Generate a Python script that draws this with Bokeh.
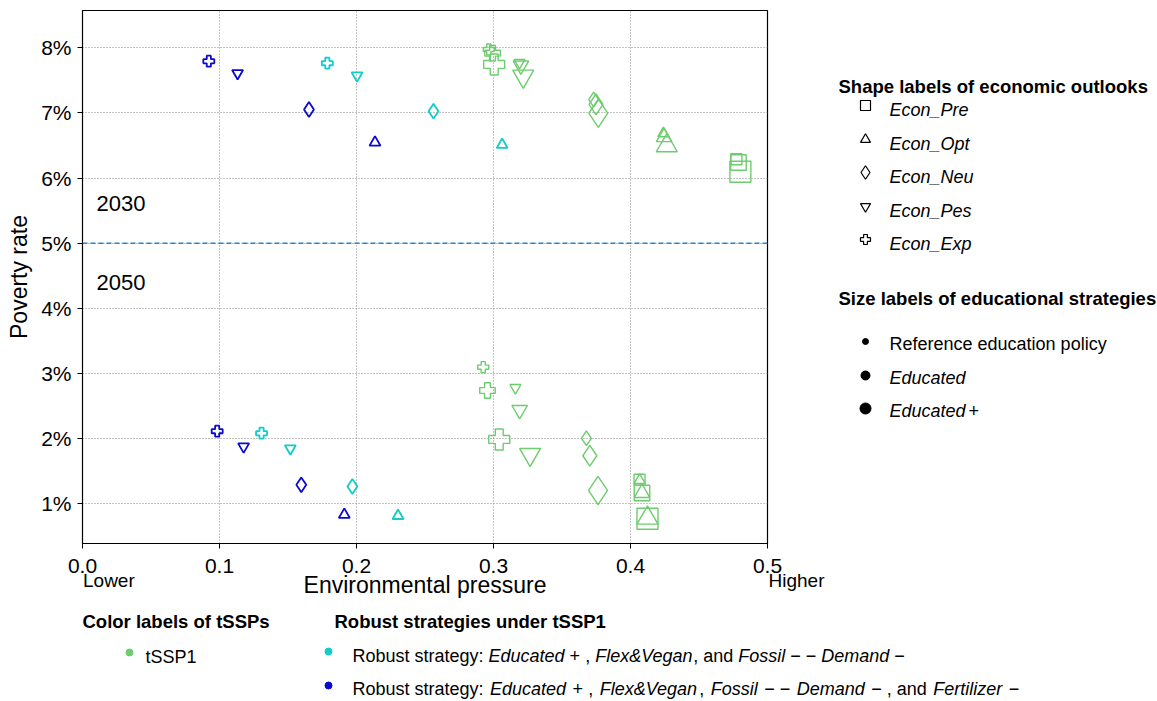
from bokeh.plotting import figure
from bokeh.models import (Range1d, FixedTicker, Span, Label, ColumnDataSource, LinearAxis,
                          NumeralTickFormatter, PrintfTickFormatter)
from bokeh.layouts import column, row
from bokeh.embed import file_html
from bokeh.resources import INLINE
from bokeh.core.properties import value

FONT = "Liberation Sans"

# ------------------------------------------------------------------ data
outlooks = ["Econ_Pre", "Econ_Opt", "Econ_Neu", "Econ_Pes", "Econ_Exp"]
robust_outlooks = ["Econ_Opt", "Econ_Neu", "Econ_Pes", "Econ_Exp"]
edu_levels = ["Reference education policy", "Educated", "Educated+"]

# tSSP1 (green) 2030 : environmental pressure / poverty rate (%)
t1_2030_ref_pressure = [0.4773, 0.4240, 0.3731, 0.3190, 0.2966]
t1_2030_ref_poverty = [6.290, 6.684, 7.206, 7.774, 7.974]
t1_2030_edu_pressure = [0.4788, 0.4245, 0.3748, 0.3200, 0.2993]
t1_2030_edu_poverty = [6.239, 6.628, 7.130, 7.728, 7.917]
t1_2030_edup_pressure = [0.4802, 0.4265, 0.3765, 0.3217, 0.3005]
t1_2030_edup_poverty = [6.096, 6.497, 6.996, 7.564, 7.744]
# tSSP1 (green) 2050
t1_2050_ref_pressure = [0.4066, 0.4067, 0.3678, 0.3160, 0.2925]
t1_2050_ref_poverty = [1.368, 1.362, 2.005, 2.782, 3.097]
t1_2050_edu_pressure = [0.4084, 0.4084, 0.3703, 0.3191, 0.2956]
t1_2050_edu_poverty = [1.166, 1.166, 1.737, 2.440, 2.739]
t1_2050_edup_pressure = [0.4124, 0.4124, 0.3763, 0.3267, 0.3042]
t1_2050_edup_poverty = [0.771, 0.780, 1.204, 1.756, 1.987]

# Robust strategy A (cyan)
rA_2030_pressure = [0.3063, 0.2562, 0.2004, 0.1787]
rA_2030_poverty = [6.511, 7.027, 7.575, 7.764]
rA_2050_pressure = [0.2303, 0.1970, 0.1517, 0.1307]
rA_2050_poverty = [0.815, 1.265, 1.849, 2.083]
# Robust strategy B (blue)
rB_2030_pressure = [0.2135, 0.1653, 0.1132, 0.0922]
rB_2030_poverty = [6.546, 7.053, 7.610, 7.794]
rB_2050_pressure = [0.1911, 0.1597, 0.1176, 0.0983]
rB_2050_poverty = [0.831, 1.291, 1.879, 2.114]

x_ticks = [0.0, 0.1, 0.2, 0.3, 0.4, 0.5]
y_ticks = [1, 2, 3, 4, 5, 6, 7, 8]
end_labels = ["Lower", "Higher"]
threshold = 5
year_labels = ["2030", "2050"]
year_label_pos = [5.61, 4.40]

# ------------------------------------------------------------------ styles
GREEN = "#6dcc6d"
CYAN = "#12cccc"
BLUE = "#0a0ad0"
MARKER = {"Econ_Pre": "square", "Econ_Opt": "triangle", "Econ_Neu": "diamond",
          "Econ_Pes": "inverted_triangle", "Econ_Exp": "plus"}
SHAPE_SCALE = {"square": 1.0, "triangle": 1.0, "diamond": 1.35,
               "inverted_triangle": 1.0, "plus": 1.0}
EDU_SIZE = [11, 15.5, 21]

# Arial / Liberation Sans advance widths (1/1000 em)
W = {' ': 278, '\u00a0': 278, '&': 667, '+': 584, ',': 278, ':': 278, '_': 556, '\u2212': 584,
     '1': 556, 'A': 667, 'C': 722, 'D': 722, 'E': 667, 'F': 611, 'H': 722, 'L': 556, 'P': 667,
     'R': 722, 'S': 667, 'V': 667,
     'a': 556, 'b': 556, 'c': 500, 'd': 556, 'e': 556, 'f': 278, 'g': 556, 'h': 556, 'i': 222,
     'k': 500, 'l': 222, 'm': 833, 'n': 556, 'o': 556, 'p': 556, 'r': 333, 's': 500, 't': 278,
     'u': 556, 'v': 500, 'w': 722, 'x': 500, 'y': 500, 'z': 500}


def tw(s, px):
    return sum(W.get(c, 556) for c in s) * px / 1000.0


# ------------------------------------------------------------------ main plot
main = figure(width=830, height=610, x_range=Range1d(0, 0.5), y_range=Range1d(0.390, 8.5726),
              output_backend="svg", toolbar_location=None,
              min_border_left=82, min_border_right=63, min_border_top=10, min_border_bottom=67)
main.background_fill_color = "white"
main.border_fill_color = "white"
main.outline_line_color = "black"
main.outline_line_width = 1.2

main.xaxis.ticker = FixedTicker(ticks=x_ticks)
main.yaxis.ticker = FixedTicker(ticks=y_ticks)
main.xaxis.formatter = NumeralTickFormatter(format="0.0")
main.yaxis.formatter = PrintfTickFormatter(format="%d%%")
main.yaxis.axis_label = "Poverty rate"
for ax in (main.xaxis, main.yaxis):
    ax.axis_label_text_font = FONT
    ax.axis_label_text_font_size = "23px"
    ax.axis_label_text_font_style = "normal"
    ax.axis_label_text_color = "black"
    ax.major_label_text_font = FONT
    ax.major_label_text_font_size = "21px"
    ax.major_label_text_color = "black"
    ax.major_tick_out = 5
    ax.major_tick_in = 0
    ax.minor_tick_out = 0
    ax.minor_tick_in = 0
    ax.axis_line_color = "black"
    ax.major_tick_line_color = "black"
main.xaxis.major_label_standoff = 10
main.yaxis.major_label_standoff = 6
main.yaxis.axis_label_standoff = 6

# second (label-only) x axis: "Lower" / "Higher" and the axis title on one row
LOW_PX = 19
nb = "\u00a0"
pad_low = nb * int(round((tw(end_labels[0], LOW_PX) + 1) / tw(nb, LOW_PX)))
pad_high = nb * int(round((tw(end_labels[1], LOW_PX) + 2) / tw(nb, LOW_PX)))
overrides = {x_ticks[0]: pad_low + end_labels[0], x_ticks[-1]: pad_high + end_labels[1],
             "0": pad_low + end_labels[0], "0.5": pad_high + end_labels[1]}
axB = LinearAxis(ticker=FixedTicker(ticks=[x_ticks[0], x_ticks[-1]]),
                 major_label_overrides=overrides,
                 axis_label="Environmental pressure")
axB.axis_line_color = None
axB.major_tick_line_color = None
axB.minor_tick_line_color = None
axB.major_tick_out = 0
axB.major_tick_in = 0
axB.minor_tick_out = 0
axB.minor_tick_in = 0
axB.major_label_text_font = FONT
axB.major_label_text_font_size = "%dpx" % LOW_PX
axB.major_label_text_color = "black"
axB.major_label_standoff = -6
axB.axis_label_text_font = FONT
axB.axis_label_text_font_size = "23px"
axB.axis_label_text_font_style = "normal"
axB.axis_label_text_color = "black"
axB.axis_label_standoff = -22
main.add_layout(axB, "below")

main.grid.grid_line_color = "#8a8a8a"
main.grid.grid_line_dash = "1 2"
main.grid.grid_line_width = 1

main.add_layout(Span(location=threshold, dimension="width", line_color="#2b83d6",
                     line_dash="5 3", line_width=1.5))


def add_points(p, xs, ys, names, size, color, lw):
    markers = [MARKER[n] for n in names]
    sizes = [size * SHAPE_SCALE[m] for m in markers]
    src = ColumnDataSource(dict(x=xs, y=ys, marker=markers, size=sizes))
    p.scatter("x", "y", source=src, marker="marker", size="size",
              fill_color=None, line_color=color, line_width=lw)


green_sets = [
    (t1_2030_ref_pressure, t1_2030_ref_poverty, 0), (t1_2030_edu_pressure, t1_2030_edu_poverty, 1),
    (t1_2030_edup_pressure, t1_2030_edup_poverty, 2), (t1_2050_ref_pressure, t1_2050_ref_poverty, 0),
    (t1_2050_edu_pressure, t1_2050_edu_poverty, 1), (t1_2050_edup_pressure, t1_2050_edup_poverty, 2),
]
for xs, ys, lvl in green_sets:
    add_points(main, xs, ys, outlooks, EDU_SIZE[lvl], GREEN, 1.4)

for xs, ys in [(rA_2030_pressure, rA_2030_poverty), (rA_2050_pressure, rA_2050_poverty)]:
    add_points(main, xs, ys, robust_outlooks, EDU_SIZE[0], CYAN, 1.8)
for xs, ys in [(rB_2030_pressure, rB_2030_poverty), (rB_2050_pressure, rB_2050_poverty)]:
    add_points(main, xs, ys, robust_outlooks, EDU_SIZE[0], BLUE, 1.8)

for txt, yy in zip(year_labels, year_label_pos):
    main.add_layout(Label(x=0.0102, y=yy, text=txt, text_baseline="middle", text_align="left",
                          text_font=FONT, text_font_size="22px", text_color="black"))

# ------------------------------------------------------------------ right legends
right = figure(width=327, height=610, x_range=Range1d(830, 1157), y_range=Range1d(543, 10),
               output_backend="svg", toolbar_location=None, min_border=0,
               min_border_top=10, min_border_bottom=67,
               x_axis_location=None, y_axis_location=None)
right.outline_line_color = None
right.grid.visible = False
right.border_fill_color = "white"

TITLE_PX = 18.5
ITEM_PX = 18
right.text(x=[838, 838], y=[86, 298],
           text=["Shape labels of economic outlooks", "Size labels of educational strategies"],
           text_font=value(FONT), text_font_size=value("%spx" % TITLE_PX),
           text_font_style=value("bold"), text_baseline=value("middle"), text_align=value("left"),
           text_color="black")

shape_text_y = [109, 143, 176, 210, 243]
right.text(x=[889] * 5, y=shape_text_y, text=outlooks, text_font=value(FONT),
           text_font_size=value("%spx" % ITEM_PX), text_font_style=value("italic"),
           text_baseline=value("middle"), text_align=value("left"), text_color="black")
leg_markers = [MARKER[o] for o in outlooks]
leg_sizes = [10 * SHAPE_SCALE[m] for m in leg_markers]
right.scatter(x=[865] * 5, y=[v - 4 for v in shape_text_y], marker=leg_markers, size=leg_sizes,
              fill_color=None, line_color="black", line_width=1.2)

size_text_y = [343, 377, 410]
right.scatter(x=[865] * 3, y=[v - 2 for v in size_text_y], marker="circle", size=[6, 9, 11],
              fill_color="black", line_color="black")
right.text(x=[889], y=[size_text_y[0]], text=[edu_levels[0]], text_font=value(FONT),
           text_font_size=value("%spx" % ITEM_PX), text_font_style=value("normal"),
           text_baseline=value("middle"), text_align=value("left"), text_color="black")
right.text(x=[889, 889], y=[size_text_y[1], size_text_y[2]], text=["Educated", "Educated"],
           text_font=value(FONT), text_font_size=value("%spx" % ITEM_PX),
           text_font_style=value("italic"), text_baseline=value("middle"), text_align=value("left"),
           text_color="black")
right.text(x=[889 + tw("Educated", ITEM_PX) + 3], y=[size_text_y[2]], text=["+"],
           text_font=value(FONT), text_font_size=value("%spx" % ITEM_PX),
           text_font_style=value("normal"), text_baseline=value("middle"), text_align=value("left"),
           text_color="black")

# ------------------------------------------------------------------ bottom legends
bottom = figure(width=1157, height=91, x_range=Range1d(0, 1157), y_range=Range1d(701, 610),
                output_backend="svg", toolbar_location=None, min_border=0,
                x_axis_location=None, y_axis_location=None)
bottom.outline_line_color = None
bottom.grid.visible = False
bottom.border_fill_color = "white"

bottom.text(x=[82, 334], y=[621, 621], text=["Color labels of tSSPs", "Robust strategies under tSSP1"],
            text_font=value(FONT), text_font_size=value("%spx" % TITLE_PX),
            text_font_style=value("bold"), text_baseline=value("middle"), text_align=value("left"),
            text_color="black")
bottom.scatter(x=[129, 328, 328], y=[652, 651, 685], marker="circle", size=7,
               fill_color=[GREEN, CYAN, BLUE], line_color=[GREEN, CYAN, BLUE])
bottom.text(x=[145], y=[656], text=["tSSP1"], text_font=value(FONT),
            text_font_size=value("%spx" % ITEM_PX), text_font_style=value("normal"),
            text_baseline=value("middle"), text_align=value("left"), text_color="black")

M = "\u2212"
# (segment, style)
line_a = [("Robust strategy: ", "normal"), ("Educated", "italic"), (" + , ", "normal"),
          ("Flex&Vegan", "italic"), (", and ", "normal"), ("Fossil", "italic"),
          (" %s %s " % (M, M), "normal"), ("Demand", "italic"), (" %s" % M, "normal")]
line_b = [("Robust strategy: ", "normal"), ("Educated", "italic"), (" + , ", "normal"),
          ("Flex&Vegan", "italic"), (", ", "normal"), ("Fossil", "italic"),
          (" %s %s " % (M, M), "normal"), ("Demand", "italic"),
          (" %s , and " % M, "normal"), ("Fertilizer", "italic"), (" %s" % M, "normal")]

for segs, yy, extra in [(line_a, 655, 0.0), (line_b, 688, 1.5)]:
    x0 = 352.0
    for s, style in segs:
        lead = len(s) - len(s.lstrip(" "))
        core = s.strip(" ")
        bottom.text(x=[x0 + tw(" " * lead, ITEM_PX)], y=[yy], text=[core], text_font=value(FONT),
                    text_font_size=value("%spx" % ITEM_PX), text_font_style=value(style),
                    text_baseline=value("middle"), text_align=value("left"), text_color="black")
        x0 += tw(s, ITEM_PX) + extra

layout = column(row(main, right), bottom)
open("out.html", "w").write(file_html(layout, INLINE))
